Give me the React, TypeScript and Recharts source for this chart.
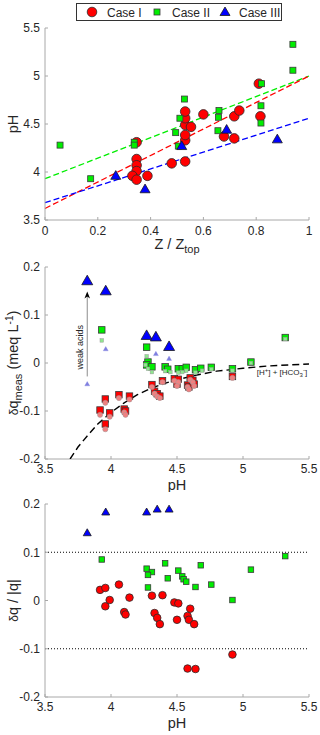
import React from "react";
import {
  ScatterChart,
  Scatter,
  XAxis,
  YAxis,
  ReferenceLine,
  Label,
} from "recharts";

const FONT = "'Liberation Sans', Arial, Helvetica, sans-serif";
const AXIS = "#a8a8a8";
const INK = "#262626";

// ---- panel (a): pH against Z / Ztop
const caseI_a = [
  [0.347, 4.31], [0.347, 4.135], [0.347, 4.07], [0.347, 4.01], [0.331, 3.96],
  [0.347, 3.92], [0.388, 3.96], [0.48, 4.09], [0.531, 4.11], [0.531, 4.33],
  [0.531, 4.385], [0.531, 4.49], [0.553, 4.47], [0.531, 4.56], [0.531, 4.63],
  [0.6, 4.6], [0.678, 4.37], [0.717, 4.35], [0.717, 4.58], [0.736, 4.64],
  [0.816, 4.58], [0.81, 4.92],
];
const caseII_a = [
  [0.057, 4.28], [0.173, 3.93], [0.338, 4.31], [0.338, 4.28], [0.495, 4.41],
  [0.505, 4.27], [0.511, 4.56], [0.528, 4.76], [0.659, 4.64], [0.657, 4.57],
  [0.655, 4.43], [0.818, 4.69], [0.818, 4.51], [0.82, 4.92], [0.939, 5.33],
  [0.939, 5.06],
];
const caseIII_a = [
  [0.268, 3.96], [0.379, 3.82], [0.518, 4.27], [0.688, 4.44], [0.88, 4.34],
];
// fitted lines, [z, pH] at both ends
const fitI = [[0, 3.62], [1, 5.0]];
const fitII = [[0, 3.93], [1, 5.0]];
const fitIII = [[0, 3.68], [1, 4.56]];

// ---- panel (b): delta q measured against pH
const caseI_b = [
  [3.917, -0.098], [3.957, -0.075], [3.957, -0.127], [3.99, -0.104], [4.06, -0.066],
  [4.1, -0.096], [4.11, -0.1], [4.14, -0.069], [4.31, -0.045], [4.33, -0.059],
  [4.35, -0.064], [4.37, -0.069], [4.39, -0.037], [4.48, -0.033], [4.51, -0.034],
  [4.5, -0.044], [4.58, -0.046], [4.6, -0.031], [4.59, -0.05], [4.62, -0.036],
  [4.63, -0.044], [4.92, -0.028],
];
const caseI_b_faded = [
  [3.917, -0.108], [3.957, -0.083], [3.957, -0.138], [3.99, -0.112], [4.06, -0.073],
  [4.1, -0.103], [4.11, -0.108], [4.14, -0.076], [4.31, -0.05], [4.33, -0.064],
  [4.35, -0.07], [4.37, -0.073], [4.39, -0.04], [4.48, -0.037], [4.51, -0.04],
  [4.5, -0.048], [4.58, -0.05], [4.6, -0.035], [4.59, -0.055], [4.62, -0.04],
  [4.63, -0.048], [4.92, -0.031],
];
const caseII_b = [
  [3.93, 0.069], [4.27, 0.033], [4.28, 0.002], [4.27, -0.004], [4.31, -0.008],
  [4.41, -0.008], [4.43, -0.013], [4.51, -0.012], [4.54, -0.012], [4.57, -0.009],
  [4.64, -0.014], [4.68, -0.011], [4.76, -0.009], [4.92, -0.012], [5.06, 0.002],
  [5.32, 0.053],
];
const caseII_b_faded = [
  [3.93, 0.047], [4.27, 0.014], [4.26, -0.004], [4.28, -0.012], [4.31, -0.019],
  [4.41, -0.017], [4.45, -0.019], [4.51, -0.02], [4.54, -0.019], [4.57, -0.016],
  [4.64, -0.02], [4.69, -0.016], [4.76, -0.013], [4.92, -0.016], [5.06, 0.0],
  [5.32, 0.05],
];
const caseIII_b = [
  [3.82, 0.171], [3.96, 0.15], [4.27, 0.057], [4.34, 0.054], [4.44, 0.034],
];
const caseIII_b_faded = [
  [3.82, -0.044], [3.96, 0.029], [4.27, 0.0], [4.34, 0.019], [4.44, 0.009],
];
// [H+] + [HCO3-] curve
const hco3Curve = [
  [3.69, -0.2], [3.75, -0.175], [3.82, -0.152], [3.9, -0.127], [4.0, -0.103],
  [4.1, -0.083], [4.2, -0.066], [4.3, -0.053], [4.4, -0.043], [4.5, -0.035],
  [4.65, -0.025], [4.8, -0.017], [5.0, -0.011], [5.2, -0.006], [5.5, -0.002],
];
const weakAcidArrow = [[3.82, -0.028], [3.82, 0.142]];
const weakAcidTip = [[3.82, 0.149]];
const weakAcidText = [[3.77, 0.033]];
const hco3Text = [[5.295, -0.021]];

// ---- panel (c): relative delta q against pH
const caseI_c = [
  [3.917, 0.022], [3.957, 0.026], [3.957, -0.012], [3.99, 0.001], [4.06, 0.033],
  [4.14, 0.006], [4.1, -0.024], [4.11, -0.029], [4.31, 0.01], [4.39, 0.011],
  [4.33, -0.026], [4.35, -0.036], [4.37, -0.049], [4.48, -0.004], [4.51, -0.006],
  [4.6, -0.017], [4.5, -0.04], [4.58, -0.032], [4.59, -0.04], [4.63, -0.049],
  [4.92, -0.112], [4.58, -0.141], [4.64, -0.142],
];
const caseII_c = [
  [3.93, 0.085], [4.27, 0.066], [4.31, 0.059], [4.28, 0.053], [4.28, 0.027],
  [4.41, 0.077], [4.43, 0.046], [4.51, 0.062], [4.54, 0.05], [4.55, 0.044],
  [4.57, 0.039], [4.64, 0.028], [4.68, 0.073], [4.76, 0.033], [4.92, 0.001],
  [5.06, 0.064], [5.32, 0.092],
];
const caseIII_c = [
  [3.82, 0.14], [3.96, 0.183], [4.27, 0.183], [4.35, 0.189], [4.44, 0.189],
];
const limitLines = [0.1, -0.1];

const zTicks = [0, 0.2, 0.4, 0.6, 0.8, 1];
const pHTicks = [3.5, 4, 4.5, 5, 5.5];
const dqTicks = [-0.2, -0.1, 0, 0.1, 0.2];

const pts = (a: number[][]) => a.map(([x, y]) => ({ x, y }));

type P = { cx?: number; cy?: number };
const dot = (r: number, fill: string, stroke = "#2a2a2a", sw = 0.8) => (p: P) => (
  <circle cx={p.cx} cy={p.cy} r={r} fill={fill} stroke={stroke} strokeWidth={sw} />
);
const box = (s: number, fill: string, stroke = "#3a3a3a", sw = 0.8) => (p: P) => (
  <rect x={(p.cx ?? 0) - s / 2} y={(p.cy ?? 0) - s / 2} width={s} height={s} fill={fill} stroke={stroke} strokeWidth={sw} />
);
const tri = (w: number, fill: string, stroke = "#1a1a1a", sw = 0.8) => (p: P) => {
  const cx = p.cx ?? 0;
  const cy = p.cy ?? 0;
  const h = w * 0.87;
  return (
    <polygon
      points={`${cx},${cy - h * 0.6} ${cx - w / 2},${cy + h * 0.4} ${cx + w / 2},${cy + h * 0.4}`}
      fill={fill}
      stroke={stroke}
      strokeWidth={sw}
    />
  );
};
const nothing = () => <g />;

const tickStyle = { fill: INK, fontSize: 12, fontFamily: FONT };
const titleStyle = { fill: INK, fontSize: 14.5, fontFamily: FONT };

const xTitle = (content: React.ReactNode, dy: number) => (p: any) => {
  const { x, y, width } = p.viewBox;
  return (
    <text x={x + width / 2} y={y + dy} textAnchor="middle" {...titleStyle}>
      {content}
    </text>
  );
};
const yTitle = (content: React.ReactNode) => (p: any) => {
  const { y, height } = p.viewBox;
  const cx = 18;
  const cy = y + height / 2;
  return (
    <text x={cx} y={cy} textAnchor="middle" transform={`rotate(-90 ${cx} ${cy})`} {...titleStyle}>
      {content}
    </text>
  );
};
const panelTag = (tag: string) => (p: any) => {
  const { x, y } = p.viewBox;
  return (
    <text x={x + 5} y={y + 12} fill="#000" fontSize={13} fontFamily={FONT}>
      {tag}
    </text>
  );
};

// box with inward ticks on all four sides, as in the original figure
function frame(
  xDomain: number[],
  xTicks: number[],
  yDomain: number[],
  yTicks: number[],
  xLabel: (p: any) => React.ReactNode,
  yLabel: (p: any) => React.ReactNode,
  tag: string,
  xHeight: number,
  xTickGap: number
) {
  return [
    <XAxis
      key="xb"
      xAxisId={0}
      type="number"
      dataKey="x"
      domain={xDomain}
      ticks={xTicks}
      interval={0}
      allowDataOverflow
      height={xHeight}
      stroke={AXIS}
      tickSize={-3}
      tickMargin={xTickGap}
      tick={tickStyle}
    >
      <Label content={xLabel} />
    </XAxis>,
    <XAxis
      key="xt"
      xAxisId="t"
      orientation="top"
      type="number"
      domain={xDomain}
      ticks={xTicks}
      interval={0}
      allowDataOverflow
      height={0}
      stroke={AXIS}
      tickSize={-3}
      tick={nothing}
    >
      <Label content={panelTag(tag)} />
    </XAxis>,
    <YAxis
      key="yl"
      yAxisId={0}
      type="number"
      dataKey="y"
      domain={yDomain}
      ticks={yTicks}
      interval={0}
      allowDataOverflow
      width={45}
      stroke={AXIS}
      tickSize={-3}
      tickMargin={8}
      tick={tickStyle}
    >
      <Label content={yLabel} />
    </YAxis>,
    <YAxis
      key="yr"
      yAxisId="r"
      orientation="right"
      type="number"
      domain={yDomain}
      ticks={yTicks}
      interval={0}
      allowDataOverflow
      width={0}
      stroke={AXIS}
      tickSize={-3}
      tick={nothing}
    />,
  ];
}

const fitLine = (seg: number[][], color: string, key: string) => (
  <ReferenceLine
    key={key}
    segment={seg.map(([x, y]) => ({ x, y }))}
    stroke={color}
    strokeWidth={1.3}
    strokeDasharray="6 3"
  />
);

const Legend = () => (
  <div
    style={{
      position: "absolute",
      left: 76,
      top: 3,
      width: 206,
      height: 18,
      boxSizing: "border-box",
      border: "1px solid #333",
      background: "#fff",
    }}
  >
    <svg width={204} height={16} style={{ position: "absolute", left: 0, top: 0, overflow: "visible" }}>
      <circle cx={15} cy={8} r={4.8} fill="#ff0000" stroke="#2a2a2a" strokeWidth={0.8} />
      <text x={30} y={12.5} fill={INK} fontSize={12} fontFamily={FONT}>Case I</text>
      <rect x={77} y={5} width={6} height={6} fill="#00ee00" stroke="#3a3a3a" strokeWidth={0.8} />
      <text x={95} y={12.5} fill={INK} fontSize={12} fontFamily={FONT}>Case II</text>
      <polygon points="148,3 143,11.5 153,11.5" fill="#0000ff" stroke="#1a1a1a" strokeWidth={0.8} />
      <text x={162} y={12.5} fill={INK} fontSize={12} fontFamily={FONT}>Case III</text>
    </svg>
  </div>
);

export default function App() {
  return (
    <div style={{ position: "absolute", left: 0, top: 0, width: 320, height: 735, background: "#fff" }}>
      {/* (a) */}
      <div style={{ position: "absolute", left: 0, top: 0 }}>
        <ScatterChart width={320} height={256} margin={{ top: 28, right: 11, bottom: 0, left: 0 }}>
          {frame(
            [0, 1],
            zTicks,
            [3.5, 5.5],
            pHTicks,
            xTitle(
              <>
                <tspan>Z / Z</tspan>
                <tspan dy={4} fontSize={11}>top</tspan>
              </>,
              29
            ),
            yTitle("pH"),
            "(a)",
            36,
            9.5
          )}
          {fitLine(fitII, "#00ee00", "f2")}
          {fitLine(fitI, "#ff0000", "f1")}
          {fitLine(fitIII, "#0000ff", "f3")}
          <Scatter data={pts(caseI_a)} shape={dot(4.8, "#ff0000")} isAnimationActive={false} />
          <Scatter data={pts(caseII_a)} shape={box(6, "#00ee00")} isAnimationActive={false} />
          <Scatter data={pts(caseIII_a)} shape={tri(10, "#0000ff")} isAnimationActive={false} />
        </ScatterChart>
      </div>

      {/* (b) */}
      <div style={{ position: "absolute", left: 0, top: 252 }}>
        <ScatterChart width={320} height={240} margin={{ top: 15, right: 11, bottom: 0, left: 0 }}>
          {frame(
            [3.5, 5.5],
            pHTicks,
            [-0.2, 0.2],
            dqTicks,
            xTitle("pH", 31),
            yTitle(
              <>
                <tspan fontSize={12}>δ</tspan>
                <tspan>q</tspan>
                <tspan dy={4} fontSize={11}>meas</tspan>
                <tspan dy={-4}> (meq L</tspan>
                <tspan dy={-5} fontSize={10}>-1</tspan>
                <tspan dy={5}>)</tspan>
              </>
            ),
            "(b)",
            33,
            8
          )}
          <Scatter
            data={pts(hco3Curve)}
            shape={nothing}
            line={{ stroke: "#000", strokeWidth: 1.4, strokeDasharray: "7 4" }}
            lineType="joint"
            isAnimationActive={false}
          />
          <ReferenceLine
            segment={weakAcidArrow.map(([x, y]) => ({ x, y }))}
            stroke="#8c8c8c"
            strokeWidth={1}
          />
          <Scatter
            data={pts(weakAcidTip)}
            shape={(p: P) => {
              const cx = p.cx ?? 0;
              const cy = p.cy ?? 0;
              return (
                <polygon
                  points={`${cx},${cy} ${cx - 2.8},${cy + 7} ${cx},${cy + 5} ${cx + 2.8},${cy + 7}`}
                  fill="#000"
                />
              );
            }}
            isAnimationActive={false}
          />
          <Scatter
            data={pts(weakAcidText)}
            shape={(p: P) => (
              <text
                x={p.cx}
                y={p.cy}
                transform={`rotate(-90 ${p.cx} ${p.cy})`}
                textAnchor="middle"
                dominantBaseline="middle"
                fontSize={9}
                fontFamily={FONT}
                fill={INK}
              >
                weak acids
              </text>
            )}
            isAnimationActive={false}
          />
          <Scatter
            data={pts(hco3Text)}
            shape={(p: P) => (
              <text x={p.cx} y={p.cy} textAnchor="middle" dominantBaseline="middle" fontSize={8} fontFamily={FONT} fill={INK}>
                <tspan>[H</tspan>
                <tspan dy={-3} fontSize={6}>+</tspan>
                <tspan dy={3}>] + [HCO</tspan>
                <tspan dy={2} fontSize={6}>3</tspan>
                <tspan dy={-5} fontSize={6}>-</tspan>
                <tspan dy={3}>]</tspan>
              </text>
            )}
            isAnimationActive={false}
          />
          <Scatter data={pts(caseIII_b_faded)} shape={tri(5, "#7f7fe0", "#7f7fe0", 0.3)} isAnimationActive={false} />
          <Scatter data={pts(caseII_b)} shape={box(6.5, "#00ee00")} isAnimationActive={false} />
          <Scatter data={pts(caseII_b_faded)} shape={box(3.5, "#8fe88f", "#9a9a9a", 0.5)} isAnimationActive={false} />
          <Scatter data={pts(caseI_b)} shape={box(6.5, "#ff0000")} isAnimationActive={false} />
          <Scatter data={pts(caseI_b_faded)} shape={dot(2.6, "#f08080", "#9a9a9a", 0.5)} isAnimationActive={false} />
          <Scatter data={pts(caseIII_b)} shape={tri(11, "#0000ff")} isAnimationActive={false} />
        </ScatterChart>
      </div>

      {/* (c) */}
      <div style={{ position: "absolute", left: 0, top: 492 }}>
        <ScatterChart width={320} height={243} margin={{ top: 12, right: 11, bottom: 0, left: 0 }}>
          {frame(
            [3.5, 5.5],
            pHTicks,
            [-0.2, 0.2],
            dqTicks,
            xTitle("pH", 31),
            yTitle(
              <>
                <tspan fontSize={12}>δ</tspan>
                <tspan>q / |q|</tspan>
              </>
            ),
            "(c)",
            38,
            8
          )}
          {limitLines.map((v) => (
            <ReferenceLine key={v} y={v} stroke="#000" strokeWidth={1} strokeDasharray="1 2" />
          ))}
          <Scatter data={pts(caseII_c)} shape={box(5.5, "#00ee00")} isAnimationActive={false} />
          <Scatter data={pts(caseI_c)} shape={dot(3.8, "#ff0000")} isAnimationActive={false} />
          <Scatter data={pts(caseIII_c)} shape={tri(8, "#0000ff")} isAnimationActive={false} />
        </ScatterChart>
      </div>

      <Legend />
    </div>
  );
}
